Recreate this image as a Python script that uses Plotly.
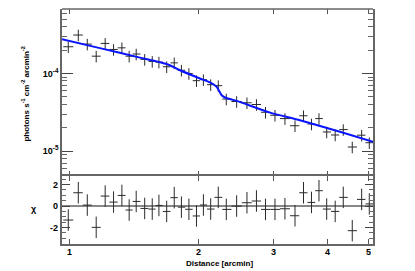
import plotly.graph_objects as go
from plotly.subplots import make_subplots
import numpy as np

# ---- data ----
distance = [0.995, 1.050, 1.102, 1.156, 1.213, 1.269, 1.327, 1.380, 1.433, 1.500,
            1.562, 1.619, 1.688, 1.758, 1.827, 1.902, 1.981, 2.056, 2.138, 2.227,
            2.325, 2.458, 2.598, 2.734, 2.870, 3.020, 3.186, 3.363, 3.520, 3.674,
            3.825, 3.987, 4.173, 4.358, 4.574, 4.811, 5.012]
brightness = [2.21e-4, 3.13e-4, 2.39e-4, 1.67e-4, 2.44e-4, 2.04e-4, 2.14e-4, 1.67e-4, 1.78e-4, 1.52e-4,
              1.43e-4, 1.40e-4, 1.22e-4, 1.37e-4, 1.10e-4, 1.00e-4, 8.07e-5, 8.31e-5, 7.17e-5, 6.96e-5,
              4.68e-5, 4.35e-5, 4.19e-5, 3.98e-5, 3.16e-5, 2.89e-5, 2.62e-5, 2.12e-5, 2.85e-5, 2.23e-5,
              2.62e-5, 1.76e-5, 1.61e-5, 1.89e-5, 1.126e-5, 1.60e-5, 1.28e-5]
rel_err = 0.17
chi = [-1.30, 1.24, 0.09, -1.98, 0.93, 0.37, 0.99, -0.37, 0.43, -0.22,
       -0.28, 0.06, -0.50, 0.78, -0.10, -0.30, -0.92, 0.10, -0.28, 0.81,
       -0.31, 0.00, 0.31, 0.47, -0.31, -0.31, -0.25, -0.90, 1.24, 0.34,
       1.43, -0.28, -0.50, 0.81, -2.29, 0.62, 0.20]
model_x = [0.962, 1.179, 1.462, 1.700, 1.813, 2.018, 2.130, 2.208, 2.268, 2.308,
           2.458, 2.940, 3.454, 4.281, 5.113]
model_y = [2.77e-4, 2.12e-4, 1.60e-4, 1.307e-4, 1.10e-4, 8.62e-5, 7.65e-5, 6.71e-5, 5.24e-5, 4.90e-5,
           4.43e-5, 3.13e-5, 2.49e-5, 1.77e-5, 1.315e-5]
x_ticks = [1, 2, 3, 4, 5]
y_ticks = [1e-5, 1e-4]
y_tick_text = ["10<sup>-5</sup>", "10<sup>-4</sup>"]
chi_ticks = [-2, 0, 2]

# bin half-widths: edges at geometric midpoints between neighbouring points
lx = np.log10(distance)
edges = np.concatenate([[lx[0] - (lx[1] - lx[0]) / 2], (lx[1:] + lx[:-1]) / 2, [lx[-1] + (lx[-1] - lx[-2]) / 2]])
xp = 10 ** edges[1:] - np.array(distance)
xm = np.array(distance) - 10 ** edges[:-1]
yerr = [b * rel_err for b in brightness]

FONT = "Liberation Sans"
ERRC = "#2a2a2a"
FRAME = "#666666"

fig = make_subplots(rows=2, cols=1, shared_xaxes=True, vertical_spacing=0,
                    row_heights=[0.711, 0.289])

fig.add_trace(go.Scatter(
    x=distance, y=brightness, mode="markers",
    marker=dict(size=1, color=ERRC, opacity=0),
    error_x=dict(type="data", array=xp, arrayminus=xm, symmetric=False, width=0, thickness=1, color=ERRC),
    error_y=dict(type="data", array=yerr, width=0, thickness=1, color=ERRC),
    showlegend=False), row=1, col=1)
fig.add_trace(go.Scatter(
    x=model_x, y=model_y, mode="lines", line=dict(color="#0a14ff", width=2, shape="spline", smoothing=0.6),
    showlegend=False), row=1, col=1)
fig.add_trace(go.Scatter(
    x=distance, y=chi, mode="markers",
    marker=dict(size=1, color=ERRC, opacity=0),
    error_x=dict(type="data", array=xp, arrayminus=xm, symmetric=False, width=0, thickness=1, color=ERRC),
    error_y=dict(type="data", array=[1.0] * len(chi), width=0, thickness=1, color=ERRC),
    showlegend=False), row=2, col=1)

minor_log = [m * 10.0 ** k for k in (-6, -5, -4, -3) for m in range(2, 10)]
xr = [np.log10(0.962), np.log10(5.113)]
tickfont = dict(family=FONT, size=9, color="black", weight="bold")

common_x = dict(type="log", range=xr, ticks="inside", mirror="ticks", showgrid=False, zeroline=False,
                tickvals=x_ticks, ticklen=5, tickcolor="#555", linecolor=FRAME, linewidth=1.5,
                showticklabels=False)
fig.update_xaxes(**common_x, showline=False, row=1, col=1)
fig.update_xaxes(**common_x, showline=True, row=2, col=1)
fig.update_yaxes(type="log", range=[-5.323, -3.169], ticks="inside", mirror="ticks",
                 showline=True, linecolor=FRAME, linewidth=1.5, showgrid=False,
                 tickvals=y_ticks, ticktext=y_tick_text, ticklen=11, tickcolor="#444",
                 tickfont=tickfont,
                 minor=dict(tickvals=minor_log, ticks="inside", ticklen=5, tickcolor="#666", showgrid=False),
                 row=1, col=1)
fig.update_yaxes(range=[-3.53, 2.79], ticks="inside", mirror="ticks", showline=True,
                 linecolor=FRAME, linewidth=1.5, showgrid=False, showticklabels=False,
                 tickvals=chi_ticks, ticklen=8, tickcolor="#444",
                 zeroline=True, zerolinecolor="#888", zerolinewidth=1.5,
                 minor=dict(dtick=0.5, ticks="inside", ticklen=4, tickcolor="#666", showgrid=False),
                 row=2, col=1)

annotations = [
    dict(text="photons s<sup>-1</sup> cm<sup>-2</sup> arcmin<sup>-2</sup>", xref="paper", yref="paper",
         x=-0.119, y=0.64, textangle=-90, showarrow=False, xanchor="center", yanchor="middle",
         font=dict(family=FONT, size=8, color="black", weight="bold")),
    dict(text="χ", xref="paper", yref="paper", x=-0.09, y=0.149, showarrow=False,
         xanchor="center", yanchor="middle",
         font=dict(family=FONT, size=9, color="black", weight="bold")),
    dict(text="Distance [arcmin]", xref="paper", yref="paper", x=0.505, y=-0.085,
         showarrow=False, xanchor="center", yanchor="middle",
         font=dict(family=FONT, size=8, color="black", weight="bold")),
]
for v in x_ticks:
    annotations.append(dict(text=str(v), xref="x2", yref="paper", x=np.log10(v), y=-0.034,
                            showarrow=False, xanchor="center", yanchor="middle",
                            font=tickfont))
for v in chi_ticks:
    annotations.append(dict(text=str(v), xref="paper", yref="y2", x=-0.008, y=v,
                            showarrow=False, xanchor="right", yanchor="middle",
                            font=tickfont))

fig.update_layout(
    width=415, height=271,
    margin=dict(l=62, r=42, t=9, b=27),
    paper_bgcolor="white", plot_bgcolor="white",
    shapes=[dict(type="line", xref="paper", yref="paper", x0=0, x1=1, y0=1, y1=1,
                 line=dict(color=FRAME, width=1.5))],
    annotations=annotations,
)

fig.write_html("out.html", config={"displayModeBar": False},
               post_script="document.body.style.margin='0';document.body.style.padding='0';")
